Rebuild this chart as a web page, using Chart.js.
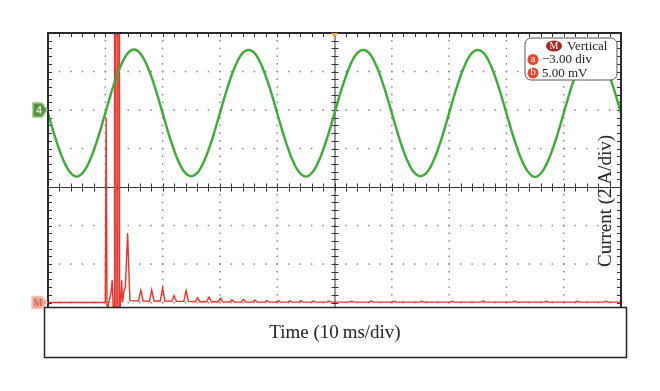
<!DOCTYPE html>
<html>
<head>
<meta charset="utf-8">
<script src="https://cdn.jsdelivr.net/npm/chart.js@4.4.0/dist/chart.umd.min.js"></script>
<style>
  html, body { margin: 0; padding: 0; background: #fff; }
  #scope { display: block; }
</style>
</head>
<body>
<canvas id="scope" width="660" height="391"></canvas>
<script>
// 时间轴: 10 div x 10 ms, 纵轴: 8 div (中心为 0)
const xRange = [0, 100];
const yRange = [-4, 4];

// 绿色通道 (电压, div), 每 1.25 ms 读一个点
const greenT = [
  0, 1.25, 2.5, 3.75, 5, 6.25, 7.5, 8.75, 10, 11.25, 12.5, 13.75, 15, 16.25, 17.5, 18.75,
  20, 21.25, 22.5, 23.75, 25, 26.25, 27.5, 28.75, 30, 31.25, 32.5, 33.75, 35, 36.25, 37.5, 38.75,
  40, 41.25, 42.5, 43.75, 45, 46.25, 47.5, 48.75, 50, 51.25, 52.5, 53.75, 55, 56.25, 57.5, 58.75,
  60, 61.25, 62.5, 63.75, 65, 66.25, 67.5, 68.75, 70, 71.25, 72.5, 73.75, 75, 76.25, 77.5, 78.75,
  80, 81.25, 82.5, 83.75, 85, 86.25, 87.5, 88.75, 90, 91.25, 92.5, 93.75, 95, 96.25, 97.5, 98.75, 100
];
const greenV = [
  1.92, 1.29, 0.76, 0.40, 0.27, 0.40, 0.76, 1.29, 1.92, 2.55, 3.08, 3.44, 3.57, 3.44, 3.08, 2.55,
  1.92, 1.29, 0.76, 0.40, 0.28, 0.40, 0.76, 1.29, 1.92, 2.55, 3.08, 3.44, 3.56, 3.44, 3.08, 2.55,
  1.92, 1.29, 0.76, 0.40, 0.27, 0.40, 0.76, 1.29, 1.92, 2.55, 3.08, 3.44, 3.56, 3.44, 3.08, 2.55,
  1.92, 1.29, 0.76, 0.40, 0.28, 0.40, 0.76, 1.29, 1.92, 2.55, 3.08, 3.44, 3.56, 3.44, 3.08, 2.55,
  1.92, 1.29, 0.76, 0.40, 0.26, 0.40, 0.76, 1.29, 1.92, 2.55, 3.08, 3.44, 3.57, 3.44, 3.08, 2.55, 1.92
];

// 红色通道 (电流, div, 基线 -3.00 div)
const redT = [
  0, 10.0, 10.15, 10.3, 10.6, 11.0, 11.2, 11.4, 11.58, 11.62, 11.86, 11.9, 12.14, 12.18, 12.44, 12.48,
  12.7, 12.86, 13.0, 13.26, 13.5, 13.9, 14.05, 14.3,
  15.8, 16.2, 16.6, 17.7, 18.1, 18.5, 19.6, 20.0, 20.4, 21.6, 22.0, 22.4, 23.7, 24.1, 24.5,
  25.7, 26.1, 26.5, 27.7, 28.1, 28.5, 29.7, 30.1, 30.5, 31.7, 32.1, 32.5, 33.7, 34.1, 34.5,
  35.7, 36.1, 36.5, 37.8, 38.2, 38.6, 39.9, 40.2, 40.6, 41.9, 42.2, 42.6, 43.8, 44.1, 44.5,
  46.0, 46.3, 46.7, 48.7, 49.0, 49.4, 52.5, 53.0, 53.4, 56.0, 56.4, 56.8, 60.0, 60.4, 60.8,
  64.8, 65.2, 65.6, 70.2, 70.6, 71.0, 75.5, 76.0, 76.4, 81.0, 81.5, 81.9, 86.6, 87.0, 87.4,
  92.0, 92.4, 92.8, 97.0, 97.4, 97.8, 100
];
const redV = [
  -3.0, -3.0, 1.79, -3.3, -3.0, -2.75, -2.42, -3.2, -3.3, 6.0, 6.0, -3.4, -3.4, 6.0, 6.0, -3.4,
  -2.9, -2.42, -3.0, -2.7, -2.6, -1.2, -1.95, -2.95,
  -2.96, -2.68, -2.96, -2.97, -2.67, -2.96, -2.96, -2.62, -2.96, -2.97, -2.82, -2.97, -2.97, -2.69, -2.97,
  -2.98, -2.88, -2.98, -2.98, -2.86, -2.98, -2.98, -2.89, -2.98, -2.99, -2.93, -2.99, -2.99, -2.92, -2.99,
  -2.99, -2.94, -2.99, -2.99, -2.95, -2.99, -2.99, -2.95, -2.99, -2.99, -2.96, -2.99, -2.99, -2.95, -2.99,
  -2.99, -2.96, -2.99, -2.99, -2.96, -2.99, -2.99, -2.97, -2.99, -2.99, -2.96, -2.99, -2.99, -2.97, -2.99,
  -2.99, -2.97, -2.99, -2.99, -2.97, -2.99, -2.99, -2.96, -2.99, -2.99, -2.97, -2.99, -2.99, -2.97, -2.99,
  -2.99, -2.97, -2.99, -2.99, -2.97, -2.99, -2.99
];

const xLabel = 'Time (10\u2009ms/div)';
const yLabel = 'Current (2\u2009A/div)';
const infoRows = ['Vertical', '\u22123.00 div', '5.00 mV'];

// 示波器网格、标记和文字
const scopePlugin = {
  id: 'scope',
  beforeDatasetsDraw(chart) {
    const ctx = chart.ctx, a = chart.chartArea;
    const xs = chart.scales.x, ys = chart.scales.y;
    ctx.save();
    // 点状网格
    ctx.fillStyle = '#858585';
    for (let d = 1; d < 10; d++) {
      if (d === 5) continue;
      const px = xs.getPixelForValue(d * 10);
      for (let k = 0; k <= 40; k++) {
        const py = ys.getPixelForValue(-4 + k * 0.2);
        ctx.fillRect(px - 0.7, py - 0.7, 1.5, 1.5);
      }
    }
    for (let d = -3; d <= 3; d++) {
      if (d === 0) continue;
      const py = ys.getPixelForValue(d);
      for (let k = 0; k <= 50; k++) {
        const px = xs.getPixelForValue(k * 2);
        ctx.fillRect(px - 0.7, py - 0.7, 1.5, 1.5);
      }
    }
    // 中心十字线
    const cx = xs.getPixelForValue(50), cy = ys.getPixelForValue(0);
    ctx.strokeStyle = '#333';
    ctx.lineWidth = 1;
    ctx.beginPath();
    ctx.moveTo(a.left, cy + 0.5); ctx.lineTo(a.right, cy + 0.5);
    ctx.moveTo(cx + 0.5, a.top); ctx.lineTo(cx + 0.5, a.bottom);
    for (let k = 0; k <= 50; k++) {
      const px = Math.round(xs.getPixelForValue(k * 2)) + 0.5;
      ctx.moveTo(px, cy - 3.5); ctx.lineTo(px, cy + 4.5);
      ctx.moveTo(px, a.top); ctx.lineTo(px, a.top + 4);
    }
    for (let k = 0; k <= 40; k++) {
      const py = Math.round(ys.getPixelForValue(-4 + k * 0.2)) + 0.5;
      ctx.moveTo(cx - 3, py); ctx.lineTo(cx + 4, py);
      ctx.moveTo(a.left, py); ctx.lineTo(a.left + 4, py);
      ctx.moveTo(a.right, py); ctx.lineTo(a.right - 4, py);
    }
    ctx.stroke();
    ctx.restore();
  },
  afterDatasetsDraw(chart) {
    const ctx = chart.ctx, a = chart.chartArea;
    const xs = chart.scales.x, ys = chart.scales.y;
    ctx.save();
    // 边框
    ctx.strokeStyle = '#2a2a2a';
    ctx.lineWidth = 2;
    ctx.beginPath();
    ctx.moveTo(a.left, a.bottom); ctx.lineTo(a.left, a.top);
    ctx.lineTo(a.right, a.top); ctx.lineTo(a.right, a.bottom);
    ctx.stroke();

    // 触发位置标记
    const tx = xs.getPixelForValue(50);
    ctx.fillStyle = '#f2a23a';
    ctx.beginPath();
    ctx.moveTo(tx - 3.5, a.top); ctx.lineTo(tx + 3.5, a.top); ctx.lineTo(tx, a.top + 5);
    ctx.closePath(); ctx.fill();

    // 通道标记
    const gy = ys.getPixelForValue(2);
    ctx.fillStyle = '#5b8f45';
    ctx.strokeStyle = '#93c97e';
    ctx.lineWidth = 1.5;
    ctx.beginPath();
    ctx.moveTo(33, gy - 7); ctx.lineTo(42, gy - 7); ctx.lineTo(47, gy);
    ctx.lineTo(42, gy + 7); ctx.lineTo(33, gy + 7); ctx.closePath();
    ctx.fill(); ctx.stroke();
    ctx.fillStyle = '#c9e6bd';
    ctx.font = 'bold 11px "Liberation Sans", sans-serif';
    ctx.textAlign = 'center'; ctx.textBaseline = 'middle';
    ctx.fillText('4', 39, gy + 0.5);

    const ry = ys.getPixelForValue(-3);
    ctx.fillStyle = '#f0a394';
    ctx.strokeStyle = '#f6c4b8';
    ctx.beginPath();
    ctx.moveTo(32, ry - 6); ctx.lineTo(42, ry - 6); ctx.lineTo(47, ry);
    ctx.lineTo(42, ry + 6); ctx.lineTo(32, ry + 6); ctx.closePath();
    ctx.fill(); ctx.stroke();
    ctx.fillStyle = '#c0584a';
    ctx.font = '10px "Liberation Serif", serif';
    ctx.fillText('M', 38, ry + 0.5);

    // 信息框
    const bx = 525, by = 38, bw = 92, bh = 42, r = 6;
    ctx.fillStyle = '#fff';
    ctx.strokeStyle = '#555';
    ctx.lineWidth = 1;
    ctx.beginPath();
    ctx.moveTo(bx + r, by);
    ctx.arcTo(bx + bw, by, bx + bw, by + bh, r);
    ctx.arcTo(bx + bw, by + bh, bx, by + bh, r);
    ctx.arcTo(bx, by + bh, bx, by, r);
    ctx.arcTo(bx, by, bx + bw, by, r);
    ctx.closePath();
    ctx.fill(); ctx.stroke();

    ctx.fillStyle = '#a4291f';
    ctx.beginPath(); ctx.ellipse(554, 46, 8, 5.5, 0, 0, Math.PI * 2); ctx.fill();
    ctx.fillStyle = '#e8452c';
    ctx.beginPath(); ctx.arc(533, 59.5, 5.5, 0, Math.PI * 2); ctx.fill();
    ctx.beginPath(); ctx.arc(533, 73, 5.5, 0, Math.PI * 2); ctx.fill();
    ctx.fillStyle = '#fff';
    ctx.font = '10px "Liberation Serif", serif';
    ctx.textAlign = 'center'; ctx.textBaseline = 'middle';
    ctx.fillText('M', 554, 46.5);
    ctx.font = '11px "Liberation Serif", serif';
    ctx.fillText('a', 533, 59);
    ctx.fillText('b', 533, 72.5);
    ctx.fillStyle = '#222';
    ctx.font = '13px "Liberation Serif", serif';
    ctx.textAlign = 'left';
    ctx.fillText(infoRows[0], 567, 46.5);
    ctx.fillText(infoRows[1], 542, 60);
    ctx.fillText(infoRows[2], 542, 73.5);

    // 纵轴标题
    ctx.save();
    ctx.translate(606, 201);
    ctx.rotate(-Math.PI / 2);
    ctx.fillStyle = '#222';
    ctx.font = '19px "Liberation Serif", serif';
    ctx.textAlign = 'center'; ctx.textBaseline = 'middle';
    ctx.fillText(yLabel, 0, 0);
    ctx.restore();

    // 时间框
    ctx.fillStyle = '#fff';
    ctx.fillRect(44, 307, 583, 50);
    ctx.strokeStyle = '#222';
    ctx.lineWidth = 1.5;
    ctx.strokeRect(44.5, 307.5, 582, 50);
    ctx.fillStyle = '#222';
    ctx.font = '19px "Liberation Serif", serif';
    ctx.textAlign = 'center'; ctx.textBaseline = 'middle';
    ctx.fillText(xLabel, 335, 333);
    ctx.restore();
  }
};

new Chart(document.getElementById('scope').getContext('2d'), {
  type: 'line',
  data: {
    datasets: [
      {
        label: 'Ch4',
        data: greenT.map((t, i) => ({ x: t, y: greenV[i] })),
        borderColor: '#3fab37',
        borderWidth: 2.4,
        pointRadius: 0,
        cubicInterpolationMode: 'monotone',
        fill: false
      },
      {
        label: 'Math',
        data: redT.map((t, i) => ({ x: t, y: redV[i] })),
        borderColor: '#e8342a',
        borderWidth: 1.4,
        pointRadius: 0,
        tension: 0,
        fill: false
      }
    ]
  },
  options: {
    responsive: false,
    animation: false,
    devicePixelRatio: 1,
    layout: { padding: { left: 48, right: 39, top: 33, bottom: 50 } },
    plugins: { legend: { display: false }, tooltip: { enabled: false } },
    scales: {
      x: { type: 'linear', min: xRange[0], max: xRange[1], display: false },
      y: { type: 'linear', min: yRange[0], max: yRange[1], display: false }
    }
  },
  plugins: [scopePlugin]
});
</script>
</body>
</html>
